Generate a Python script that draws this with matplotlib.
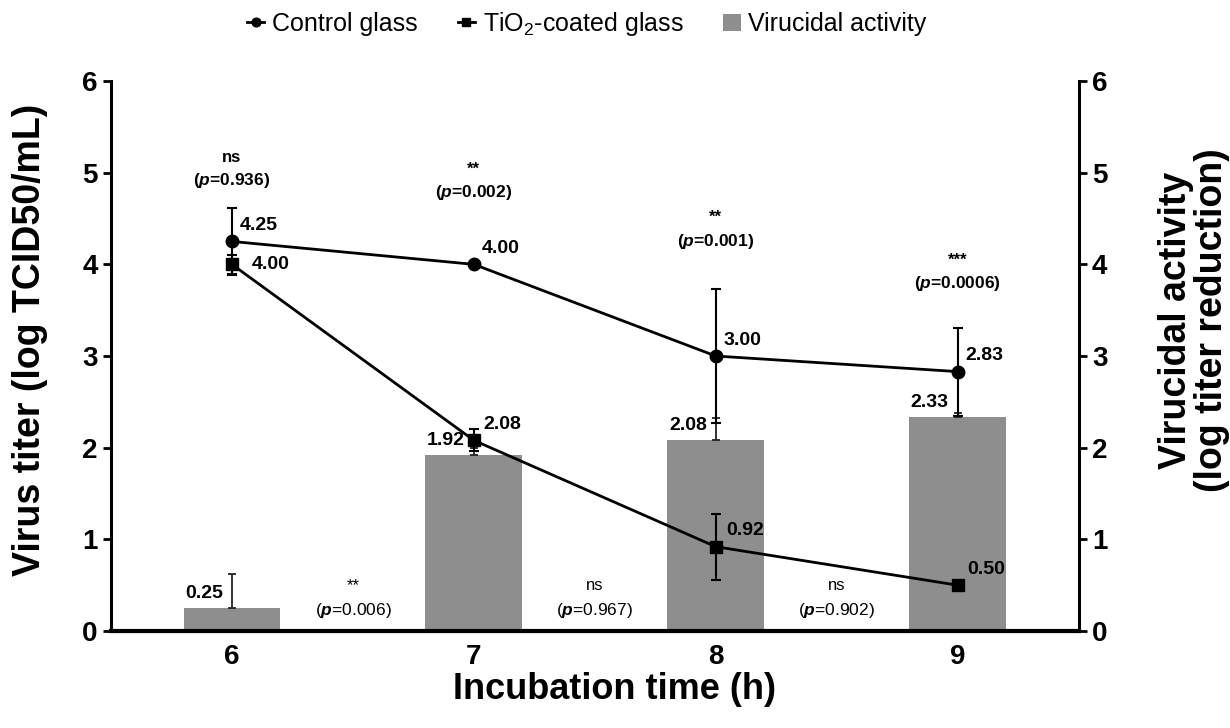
import numpy as np
import matplotlib
matplotlib.use('Agg')
import matplotlib.pyplot as plt

plt.rcParams['font.family'] = ['Liberation Sans', 'DejaVu Sans']
plt.rcParams['mathtext.fontset'] = 'custom'
plt.rcParams['mathtext.rm'] = 'Liberation Sans'
plt.rcParams['mathtext.it'] = 'Liberation Sans:italic:bold'
plt.rcParams['mathtext.bf'] = 'Liberation Sans:bold'

# data
hours = ['6', '7', '8', '9']
control = [4.25, 4.00, 3.00, 2.83]
control_err = [0.37, 0.0, 0.73, 0.48]
tio2 = [4.00, 2.08, 0.92, 0.50]
tio2_err = [0.10, 0.12, 0.36, 0.0]
virucidal = [0.25, 1.92, 2.08, 2.33]
virucidal_err = [0.37, 0.08, 0.24, 0.05]

# significance per time point (top) and between points (bottom)
sig_top = ['ns', '**', '**', '***']
p_top = ['0.936', '0.002', '0.001', '0.0006']
sig_top_y = [5.17, 5.04, 4.51, 4.05]
sig_mid = ['**', 'ns', 'ns']
p_mid = ['0.006', '0.967', '0.902']

x = np.arange(len(hours))

fig, ax = plt.subplots(figsize=(12.3, 7.28), dpi=100)
fig.subplots_adjust(left=0.0902, right=0.877, bottom=0.1332, top=0.8887)
ax2 = ax.twinx()

bar_color = '#8e8e8e'
ax2.bar(x, virucidal, width=0.4, color=bar_color, label='Virucidal activity', zorder=1)
ax2.errorbar(x, virucidal, yerr=[np.zeros(4), virucidal_err], fmt='none', ecolor='#222222',
             elinewidth=1.3, capsize=3, capthick=1.3, zorder=2)

ax.errorbar(x, control, yerr=control_err, fmt='none', ecolor='black', elinewidth=1.5,
            capsize=3.5, capthick=1.5, zorder=3)
ax.errorbar(x, tio2, yerr=tio2_err, fmt='none', ecolor='black', elinewidth=1.5,
            capsize=3.5, capthick=1.5, zorder=3)
ax.plot(x, control, color='black', lw=2, marker='o', ms=9, label='Control glass', zorder=4)
ax.plot(x, tio2, color='black', lw=2, marker='s', ms=8.5, label='TiO$_2$-coated glass', zorder=4)

ax.set_zorder(ax2.get_zorder() + 1)
ax.patch.set_visible(False)

for a in (ax, ax2):
    a.set_ylim(0, 6)
    a.set_yticks(range(0, 7))
    a.set_xlim(-0.5, 3.5)
    a.spines['top'].set_visible(False)
    for s in a.spines.values():
        s.set_linewidth(2.2)
    a.tick_params(axis='y', length=6, width=2, labelsize=20)
    for t in a.get_yticklabels():
        t.set_fontweight('bold')

ax.spines['right'].set_visible(False)
ax2.spines['left'].set_visible(False)
ax.spines['bottom'].set_linewidth(3)
ax.set_xticks(x)
ax.set_xticklabels(hours, fontsize=20, fontweight='bold')
ax.tick_params(axis='x', length=0, pad=9)

ax.set_xlabel('Incubation time (h)', fontsize=26, fontweight='bold')
ax.xaxis.set_label_coords(0.52, -0.107)
ax.xaxis.label.set_va('center')
ax.set_ylabel('Virus titer (log TCID50/mL)', fontsize=27, fontweight='bold')
ax.yaxis.set_label_coords(-0.084, 0.53)
ax.yaxis.label.set_va('center')
ax2.set_ylabel('Virucidal activity\n(log titer reduction)', fontsize=27, fontweight='bold',
               linespacing=1.0)
ax2.yaxis.set_label_coords(1.119, 0.565)
ax2.yaxis.label.set_va('center')

# value labels
lab = dict(fontsize=14, fontweight='bold', textcoords='offset pixels')
for i in range(4):
    ax.annotate(f'{control[i]:.2f}', (x[i], control[i]), xytext=(8, 16), ha='left', va='center', **lab)
    ax2.annotate(f'{virucidal[i]:.2f}', (x[i], virucidal[i]), xytext=(-9, 15), ha='right', va='center', **lab)
ax.annotate(f'{tio2[0]:.2f}', (x[0], tio2[0]), xytext=(20, 0), ha='left', va='center', **lab)
for i in range(1, 4):
    ax.annotate(f'{tio2[i]:.2f}', (x[i], tio2[i]), xytext=(10, 16), ha='left', va='center', **lab)

# significance
for i in range(4):
    ax.text(x[i], sig_top_y[i], sig_top[i], ha='center', va='center', fontsize=12, fontweight='bold')
    ax.text(x[i], sig_top_y[i] - 0.26, f'($p$={p_top[i]})', ha='center', va='center',
            fontsize=12.5, fontweight='bold')
for i in range(3):
    ax.text(x[i] + 0.5, 0.50, sig_mid[i], ha='center', va='center', fontsize=12)
    ax.text(x[i] + 0.5, 0.22, f'($p$={p_mid[i]})', ha='center', va='center', fontsize=12.5)

h1, l1 = ax.get_legend_handles_labels()
h2, l2 = ax2.get_legend_handles_labels()
fig.legend(h1 + h2, l1 + l2, loc='center', bbox_to_anchor=(0.477, 0.967), ncol=3,
           frameon=False, fontsize=18, handlelength=0.7, handletextpad=0.3,
           columnspacing=1.6, markerscale=0.7)

fig.savefig('out.png', dpi=100)
